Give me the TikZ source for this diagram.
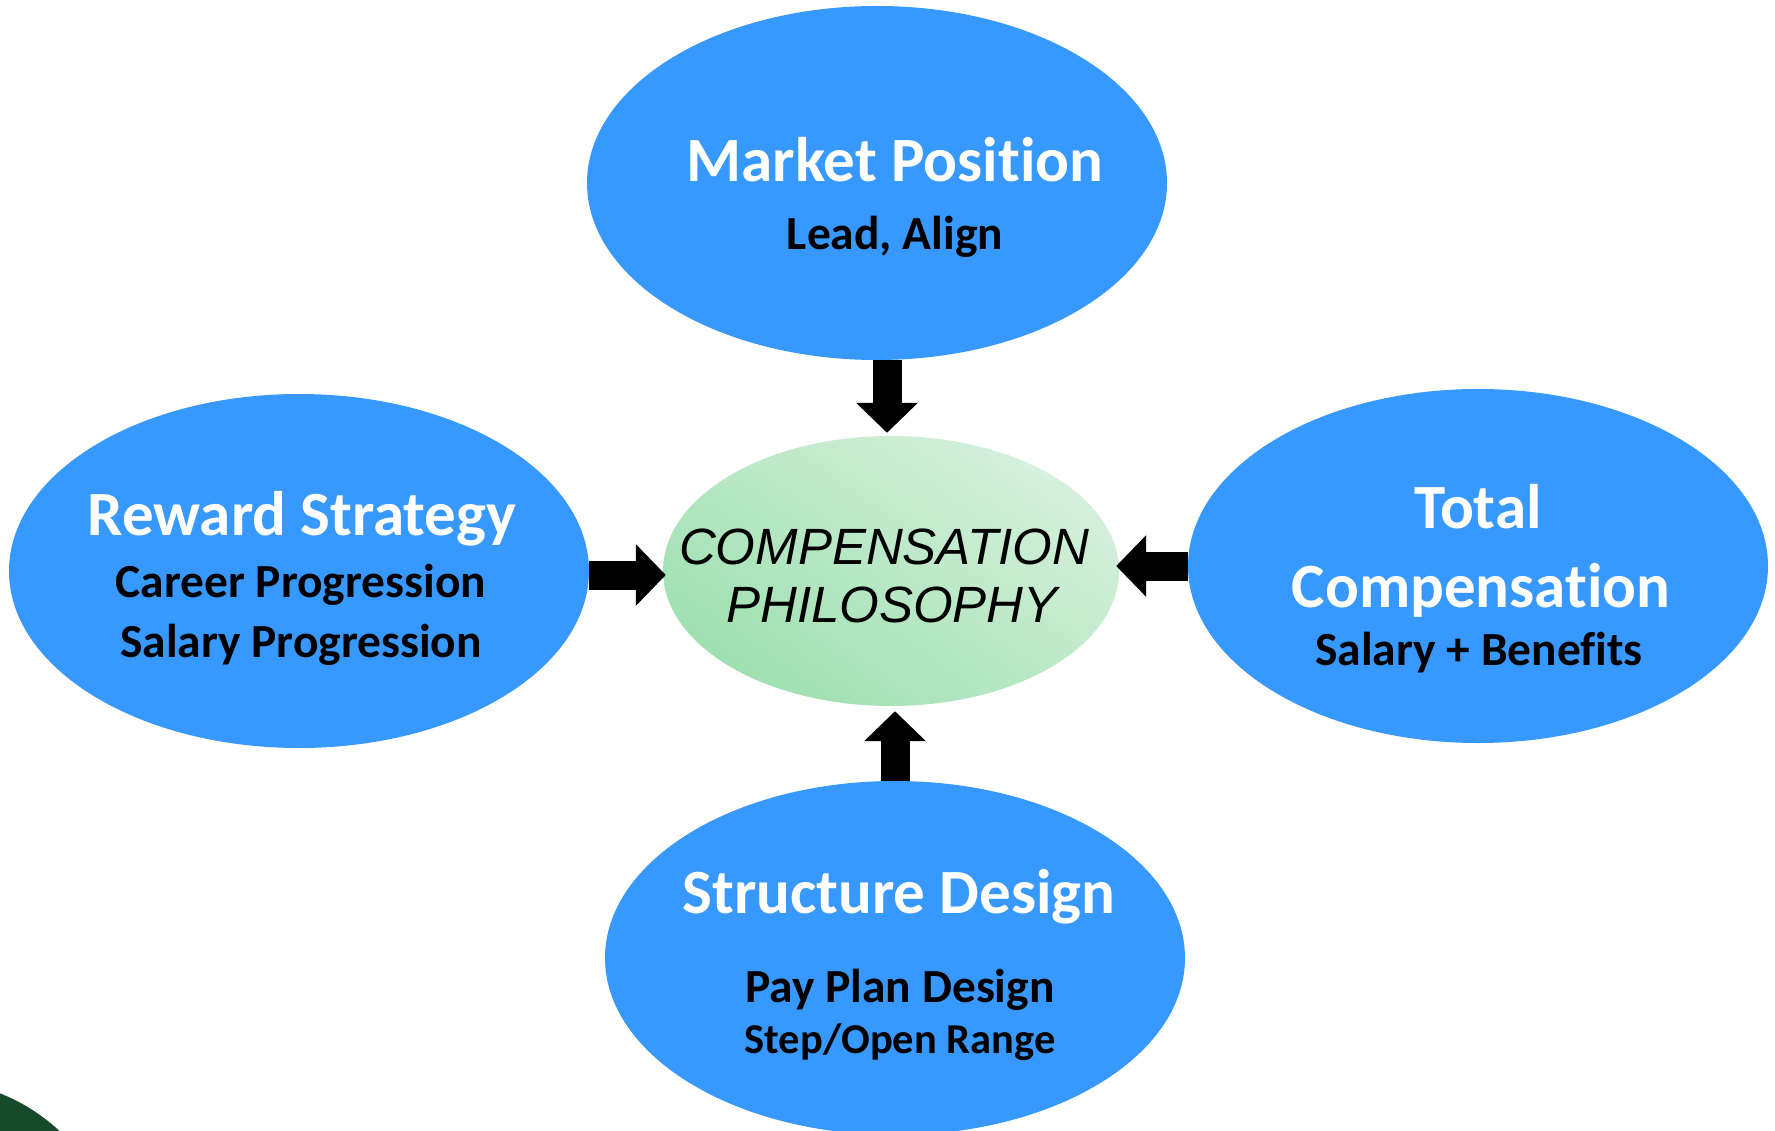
\documentclass[tikz,border=0pt]{standalone}
\usepackage{fontspec}
\setmainfont{Carlito}[Ligatures=NoCommon,Contextuals=NoAlternate]
\newfontfamily\capfont{Liberation Sans}
\usetikzlibrary{shapes.geometric,arrows.meta}
\definecolor{bubble}{RGB}{55,152,254}
\definecolor{mintlight}{RGB}{214,240,220}
\definecolor{mintdark}{RGB}{158,224,176}
\definecolor{forest}{RGB}{23,74,42}
\begin{document}
\begin{tikzpicture}[x=1pt,y=-1pt,
  bubble/.style={ellipse, fill=bubble, draw=none, minimum width=580pt, minimum height=354pt, inner sep=0pt},
  hub/.style={ellipse, draw=none, minimum width=456pt, minimum height=270pt, inner sep=0pt,
    top color=mintlight, bottom color=mintdark, shading angle=-35},
  headline/.style={anchor=base, text=white, inner sep=0pt, font=\fontsize{63}{63}\selectfont\bfseries},
  detail/.style={anchor=base, text=black, inner sep=0pt, font=\fontsize{47.5}{47.5}\selectfont\bfseries},
  smalldetail/.style={detail, font=\fontsize{42.5}{42.5}\selectfont\bfseries},
  hubtext/.style={anchor=base, text=black, inner sep=0pt, font=\capfont\itshape\fontsize{51}{51}\selectfont},
  feed/.style={line width=29pt, black, -{Triangle[width=60pt,length=30pt]}},
]
% canvas
\fill[white] (0,0) rectangle (1775,1131);
\useasboundingbox (0,0) rectangle (1775,1131);

% corner disc
\fill[forest] (-70,1270) circle[radius=190pt];

% outer bubbles and hub
\node[bubble] (mp) at (877,183) {};
\node[bubble] (rs) at (299,571) {};
\node[bubble] (tc) at (1478,566) {};
\node[bubble] (sd) at (895,958) {};
\node[hub] (cp) at (891,571) {};

% arrows feeding the hub
\draw[feed] ([xshift=-4pt]cp.north |- mp.south) -- ([xshift=-4pt,yshift=3pt]cp.north);
\draw[feed] (sd.north) -- ([yshift=-5pt]sd.north |- cp.south);
\draw[feed] ([yshift=-4pt]rs.east) -- ([xshift=3pt,yshift=-4pt]rs.east -| cp.west);
\draw[feed] (tc.west) -- ([xshift=-3pt]tc.west -| cp.east);

% labels
\node[headline] (mp1) at (895,182) {Market Position};
\node[detail] (mp2) at (895,250) {Lead, Align};

\node[headline] (rs1) at (302,535) {Reward Strategy};
\node[detail] (rs2) at (301,597) {Career Progression};
\node[detail] (rs3) at (301,657) {Salary Progression};

\node[headline] (tc1) at (1478,528) {Total};
\node[headline] (tc2) at (1481,607) {Compensation};
\node[detail] (tc3) at (1479,665) {Salary + Benefits};

\node[headline] (sd1) at (899,913) {Structure Design};
\node[detail] (sd2) at (900,1002) {Pay Plan Design};
\node[smalldetail] (sd3) at (900,1053) {Step/Open Range};

\node[hubtext] (cp1) at (884,564) {COMPENSATION};
\node[hubtext] (cp2) at (892,622) {PHILOSOPHY};
\end{tikzpicture}
\end{document}
